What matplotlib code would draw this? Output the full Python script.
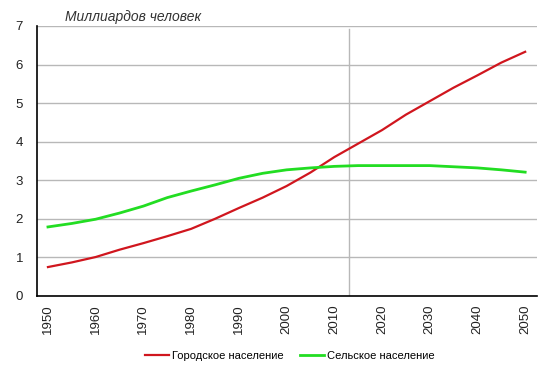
import matplotlib.pyplot as plt

plt.rcParams['font.family'] = ['Liberation Sans', 'DejaVu Sans']

# Данные (млрд человек)
years = [1950, 1955, 1960, 1965, 1970, 1975, 1980, 1985, 1990, 1995, 2000,
         2005, 2010, 2015, 2020, 2025, 2030, 2035, 2040, 2045, 2050]
urban = [0.75, 0.87, 1.01, 1.20, 1.37, 1.55, 1.74, 2.00, 2.28, 2.55, 2.85,
         3.20, 3.60, 3.95, 4.30, 4.70, 5.05, 5.40, 5.72, 6.05, 6.33]
rural = [1.79, 1.88, 1.99, 2.15, 2.33, 2.55, 2.72, 2.88, 3.05, 3.18, 3.27,
         3.32, 3.36, 3.38, 3.38, 3.38, 3.38, 3.35, 3.32, 3.27, 3.21]
tick_years = list(range(1950, 2051, 10))
labels = ['Городское население', 'Сельское население']

fig = plt.figure(figsize=(5.52, 3.74), dpi=100)
ax = fig.add_axes([0.067, 0.2086, 0.906, 0.722])

ax.plot(years, urban, color='#d0161e', lw=1.6, label=labels[0])
ax.plot(years, rural, color='#22dd22', lw=2.0, label=labels[1])

ax.set_xlim(1947.7, 2052.5)
ax.set_ylim(0, 7)
ax.set_yticks(range(0, 8))
ax.set_xticks(tick_years)
ax.set_xticklabels([str(y) for y in tick_years], rotation=90)
ax.tick_params(length=0, labelsize=9.5, colors='#222222')
ax.tick_params(axis='y', pad=10)
ax.tick_params(axis='x', pad=6)

ax.grid(axis='y', color='#b8b8b8', lw=1)
ax.set_axisbelow(True)
ax.axvline(2013, color='#b8b8b8', lw=1, ymax=0.99, zorder=0)

for s in ['top', 'right']:
    ax.spines[s].set_visible(False)
ax.spines['left'].set_color('black')
ax.spines['bottom'].set_color('black')
ax.spines['left'].set_linewidth(1.2)
ax.spines['bottom'].set_linewidth(1.2)

fig.text(0.118, 0.955, 'Миллиардов человек', fontsize=10, style='italic',
         color='#333333', va='center')

fig.legend(loc='center', bbox_to_anchor=(0.525, 0.048), ncol=2, frameon=False,
           fontsize=8, handlelength=2.2, handletextpad=0.3, columnspacing=1.4)

fig.savefig('out.png', dpi=100)
